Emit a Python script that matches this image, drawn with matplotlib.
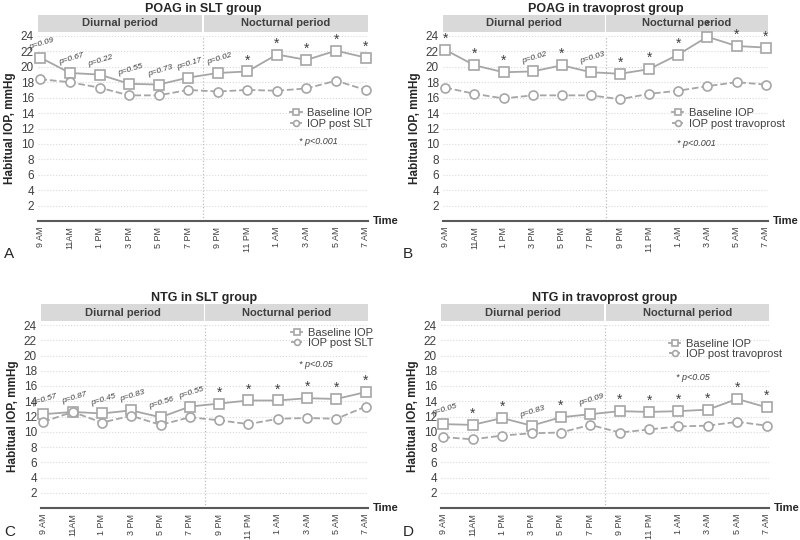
import numpy as np
import matplotlib
matplotlib.use('Agg')
import matplotlib.pyplot as plt
import matplotlib.transforms as mtrans

plt.rcParams['font.family'] = ['Liberation Sans', 'DejaVu Sans']

times = ['9 AM', '11AM', '1 PM', '3 PM', '5 PM', '7 PM', '9 PM', '11 PM', '1 AM', '3 AM', '5 AM', '7 AM']

# panel A - POAG in SLT group
a_base = [21.2, 19.2, 19.0, 17.8, 17.7, 18.6, 19.2, 19.4, 21.6, 20.9, 22.1, 21.2]
a_post = [18.4, 18.0, 17.3, 16.3, 16.3, 17.0, 16.8, 17.0, 16.9, 17.2, 18.2, 17.0]
a_sig = ['p=0.09', 'p=0.67', 'p=0.22', 'p=0.55', 'p=0.73', 'p=0.17', 'p=0.02', '*', '*', '*', '*', '*']

# panel B - POAG in travoprost group
b_base = [22.2, 20.2, 19.3, 19.4, 20.2, 19.3, 19.1, 19.7, 21.6, 23.9, 22.7, 22.5]
b_post = [17.3, 16.5, 15.9, 16.3, 16.3, 16.3, 15.8, 16.5, 16.9, 17.5, 18.0, 17.7]
b_sig = ['*', '*', '*', 'p=0.02', '*', 'p=0.03', '*', '*', '*', '*', '*', '*']

# panel C - NTG in SLT group
c_base = [12.3, 12.6, 12.4, 12.8, 11.9, 13.3, 13.7, 14.1, 14.1, 14.4, 14.3, 15.2]
c_post = [11.3, 12.6, 11.2, 12.1, 10.9, 11.9, 11.5, 11.0, 11.7, 11.8, 11.7, 13.3]
c_sig = ['p=0.57', 'p=0.87', 'p=0.45', 'p=0.83', 'p=0.56', 'p=0.55', '*', '*', '*', '*', '*', '*']

# panel D - NTG in travoprost group
d_base = [11.0, 10.9, 11.8, 10.8, 11.9, 12.3, 12.7, 12.6, 12.7, 12.9, 14.3, 13.2]
d_post = [9.3, 9.0, 9.5, 9.8, 9.9, 10.9, 9.9, 10.3, 10.7, 10.8, 11.3, 10.8]
d_sig = ['p=0.05', '*', '*', 'p=0.83', '*', 'p=0.09', '*', '*', '*', '*', '*', '*']

# title, legend label, note, data, letter, axes box (px), legend anchor, note pos, letter pos (px)
panels = [
    ('POAG in SLT group', 'IOP post SLT', '* p<0.001', a_base, a_post, a_sig, 'A',
     [38, 36, 330, 185], (0.765, 0.61), (0.79, 0.43), (4, 254)),
    ('POAG in travoprost group', 'IOP post travoprost', '* p<0.001', b_base, b_post, b_sig, 'B',
     [443, 36, 325, 185], (0.705, 0.61), (0.72, 0.42), (403, 254)),
    ('NTG in SLT group', 'IOP post SLT', '* p<0.05', c_base, c_post, c_sig, 'C',
     [41, 325, 327, 183], (0.765, 0.985), (0.79, 0.785), (4, 532)),
    ('NTG in travoprost group', 'IOP post travoprost', '* p<0.05', d_base, d_post, d_sig, 'D',
     [441, 325, 328, 183], (0.695, 0.925), (0.715, 0.715), (403, 532)),
]

W, H = 800, 540
fig = plt.figure(figsize=(8, 5.4), dpi=100)
grey = '#a6a6a6'
txt = '#404040'
dark = '#262626'
x = np.arange(len(times))

for title, postlab, note, base, post, sig, letter, box, legpos, notepos, letpos in panels:
    l, t, w, h = box
    ax = fig.add_axes([l / W, 1 - (t + h) / H, w / W, h / H])
    ax.set_xlim(-0.08, 11.08)
    ax.set_ylim(0, 24)
    ax.set_yticks(range(2, 25, 2))
    ax.tick_params(axis='y', length=0, labelsize=8.5, labelcolor=txt, pad=3)
    ax.set_xticks(x)
    ax.set_xticklabels(times, rotation=90, fontsize=6.5, color=txt)
    ax.tick_params(axis='x', length=0, pad=4)
    for s in ['top', 'right', 'left']:
        ax.spines[s].set_visible(False)
    ax.spines['bottom'].set_color('#595959')
    ax.spines['bottom'].set_linewidth(1.5)
    ax.grid(axis='y', color='#d9d9d9', linestyle=':', linewidth=0.8)
    ax.axvline(5.5, color='#bfbfbf', linestyle=':', linewidth=0.9)

    ax.plot(x, base, '-s', color=grey, mfc='white', mec=grey, ms=6.5, lw=1.3, mew=1.2,
            label='Baseline IOP', clip_on=False, zorder=3)
    ax.plot(x, post, '--o', color=grey, mfc='white', mec=grey, ms=6.5, lw=1.3, mew=1.2,
            label=postlab, clip_on=False, zorder=3)

    for xi, yi, s in zip(x, base, sig):
        if s == '*':
            ax.annotate(s, (xi, yi), xytext=(0, 3), textcoords='offset points',
                        ha='center', va='bottom', fontsize=10, color=txt)
        else:
            ax.annotate(s, (xi, yi), xytext=(1, 5), textcoords='offset points',
                        ha='center', va='bottom', fontsize=6, style='italic',
                        rotation=17, color=txt)

    # header band
    tr = mtrans.blended_transform_factory(ax.transData, ax.transAxes)
    y0, y1 = 1 + 4 / h, 1 + 21 / h
    ax.fill_between([-0.08, 5.47], y0, y1, transform=tr, color='#d9d9d9', clip_on=False, lw=0)
    ax.fill_between([5.53, 11.08], y0, y1, transform=tr, color='#d9d9d9', clip_on=False, lw=0)
    ax.text(2.7, (y0 + y1) / 2, 'Diurnal period', transform=tr, ha='center', va='center',
            fontsize=8, fontweight='bold', color=txt)
    ax.text(8.3, (y0 + y1) / 2, 'Nocturnal period', transform=tr, ha='center', va='center',
            fontsize=8, fontweight='bold', color=txt)
    ax.text(0.5, 1 + 27 / h, title, transform=ax.transAxes, ha='center', va='center',
            fontsize=9, fontweight='bold', color=dark)

    ax.set_ylabel('Habitual IOP, mmHg', fontsize=8.5, fontweight='bold', color=dark, labelpad=3)
    ax.text(1.015, 0, 'Time', transform=ax.transAxes, ha='left', va='center',
            fontsize=8, fontweight='bold', color=dark)

    leg = ax.legend(loc='upper left', bbox_to_anchor=legpos, frameon=False, fontsize=8,
                    handlelength=1.0, handletextpad=0.5, labelspacing=0.05, borderpad=0,
                    borderaxespad=0, markerscale=0.65)
    for tx in leg.get_texts():
        tx.set_color(txt)
    ax.text(notepos[0], notepos[1], note, transform=ax.transAxes, fontsize=6.5, style='italic',
            color=txt, ha='left', va='center')

    fig.text(letpos[0] / W, 1 - letpos[1] / H, letter, fontsize=11, color=dark,
             ha='left', va='center')

fig.savefig('out.png', dpi=100, facecolor='white')
